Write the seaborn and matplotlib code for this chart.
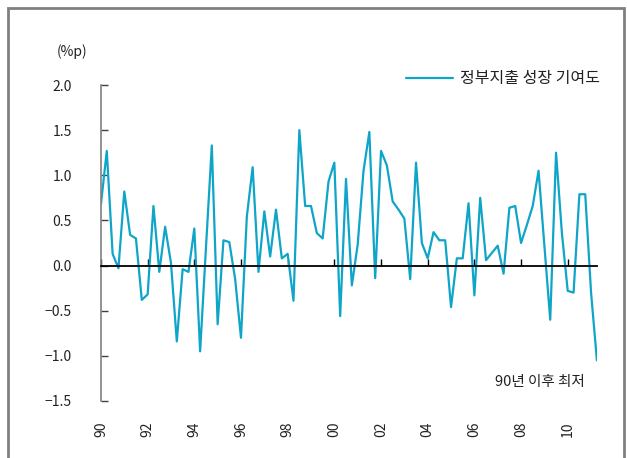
#! /usr/bin/env python3
'''
Government spending contribution to GDP growth, quarterly 1990-2011
'''

# imports
from matplotlib.patches import Rectangle
import matplotlib.pyplot as plt
import pandas as pd
import seaborn as sns

# data (quarterly, 1990Q1 ~ 2011Q2, unit: %p)
quarter_idx = list(range(86))
contribution = [
    0.68, 1.27, 0.13, -0.03, 0.82, 0.34, 0.30, -0.38,
    -0.32, 0.66, -0.07, 0.43, 0.03, -0.84, -0.04, -0.07,
    0.41, -0.95, 0.20, 1.33, -0.65, 0.28, 0.26, -0.15,
    -0.80, 0.54, 1.09, -0.07, 0.60, 0.10, 0.62, 0.08,
    0.13, -0.39, 1.50, 0.66, 0.66, 0.36, 0.30, 0.93,
    1.14, -0.56, 0.96, -0.22, 0.23, 1.05, 1.48, -0.14,
    1.27, 1.11, 0.71, 0.62, 0.52, -0.15, 1.14, 0.25,
    0.08, 0.37, 0.28, 0.28, -0.46, 0.08, 0.08, 0.69,
    -0.33, 0.75, 0.06, 0.14, 0.22, -0.09, 0.64, 0.66,
    0.25, 0.45, 0.66, 1.05, 0.22, -0.60, 1.25, 0.36,
    -0.28, -0.30, 0.79, 0.79, -0.30, -1.05,
]
year_ticks = [0, 8, 16, 24, 32, 40, 48, 56, 64, 72, 80]
year_labels = ['90', '92', '94', '96', '98', '00', '02', '04', '06', '08', '10']
y_ticks = [-1.5, -1.0, -0.5, 0.0, 0.5, 1.0, 1.5, 2.0]

SERIES = '정부지출 성장 기여도'
LINE_COLOR = '#0ea5c8'

# style
sns.set_style('white')
plt.rcParams['font.family'] = ['Noto Sans CJK KR', 'DejaVu Sans']
plt.rcParams['font.size'] = 10

df = pd.DataFrame({'q': quarter_idx, 'v': contribution})

fig = plt.figure(figsize=(6.27, 4.58), dpi=100)
ax = fig.add_axes([0.161, 0.1245, 0.791, 0.6899])

sns.lineplot(data=df, x='q', y='v', ax=ax, color=LINE_COLOR, linewidth=1.6, label=SERIES)

# axes ranges
ax.set_xlim(0, 85)
ax.set_ylim(-1.5, 2.0)
ax.set_xlabel('')
ax.set_ylabel('')

# y axis: gray spine, inward ticks
ax.set_yticks(y_ticks)
ax.set_yticklabels(['%.1f' % t if t >= 0 else '\u2212%.1f' % -t for t in y_ticks])
ax.spines['left'].set_color('#808080')
ax.spines['left'].set_linewidth(1.2)
ax.tick_params(axis='y', left=True, direction='in', length=5, width=1, color='#404040',
               pad=21, labelsize=10, labelcolor='#222222')
ax.spines['top'].set_visible(False)
ax.spines['right'].set_visible(False)

# zero line carries the year ticks
ax.spines['bottom'].set_position(('data', 0))
ax.spines['bottom'].set_color('black')
ax.spines['bottom'].set_linewidth(1.3)
ax.set_xticks(year_ticks)
ax.tick_params(axis='x', bottom=True, direction='in', length=5, width=1, color='black',
               labelbottom=False)

# year labels below the plot
sec = ax.secondary_xaxis('bottom')
sec.spines['bottom'].set_visible(False)
sec.set_xticks(year_ticks)
sec.set_xticklabels(year_labels)
sec.tick_params(axis='x', length=0, pad=15, labelsize=10, labelrotation=90, labelcolor='#222222')

# unit + note
ax.annotate('(%p)', xy=(-0.058, 1.105), xycoords='axes fraction', ha='center', va='center',
            fontsize=10, color='#222222')
ax.annotate('90년 이후 최저', xy=(0.885, 0.06), xycoords='axes fraction', ha='center', va='center',
            fontsize=10.5, color='#222222')

# legend
leg = ax.legend(loc='center right', bbox_to_anchor=(1.035, 1.02), frameon=False,
                handlelength=3.0, handletextpad=0.4, fontsize=11.5)
for t in leg.get_texts():
    t.set_color('#222222')

# outer frame
fig.patches.append(Rectangle((8 / 627, -0.1), 616 / 627, 1.1 - 8 / 458, transform=fig.transFigure,
                             fill=False, edgecolor='#808080', linewidth=2))

fig.savefig('out.png', dpi=100)
